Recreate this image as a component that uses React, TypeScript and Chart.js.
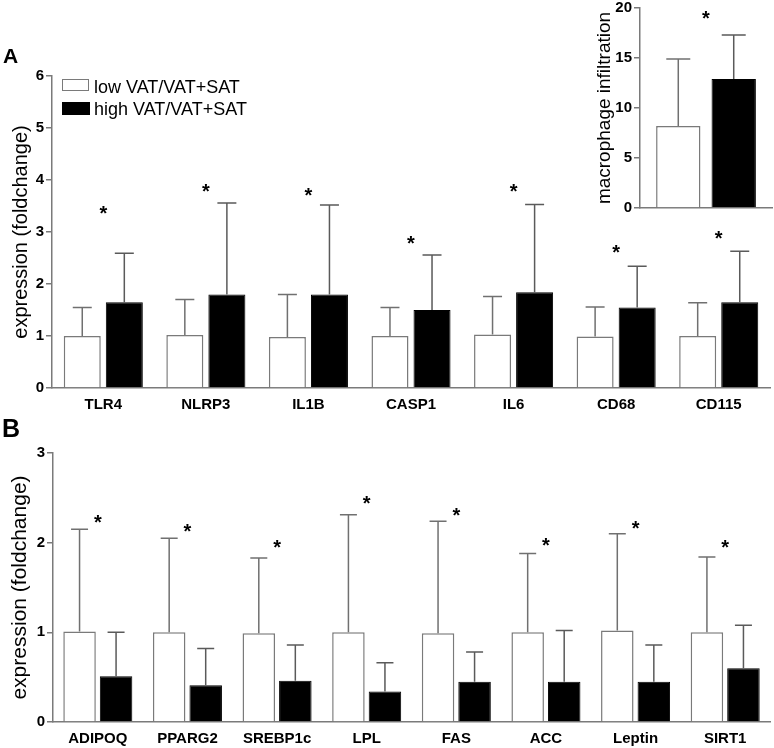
import React, { useEffect, useRef } from 'react';
import { Chart, registerables } from 'chart.js';
Chart.register(...registerables);

const FONT = "'Liberation Sans', Arial, Helvetica, sans-serif";
const AXIS_GREY = '#7a7a7a';

// ---------- Panel A ----------
const panelACategories = ['TLR4', 'NLRP3', 'IL1B', 'CASP1', 'IL6', 'CD68', 'CD115'];
const panelALow = [1.0, 1.02, 0.98, 1.0, 1.03, 0.99, 1.0];
const panelALowError = [1.55, 1.7, 1.8, 1.55, 1.76, 1.56, 1.64];
const panelAHigh = [1.65, 1.8, 1.8, 1.5, 1.84, 1.55, 1.65];
const panelAHighError = [2.59, 3.56, 3.52, 2.56, 3.53, 2.34, 2.63];
const panelAStars = [3.46, 3.88, 3.8, 2.88, 3.87, 2.7, 2.98];
const panelATicks = [0, 1, 2, 3, 4, 5, 6];

// ---------- Panel B ----------
const panelBCategories = ['ADIPOQ', 'PPARG2', 'SREBP1c', 'LPL', 'FAS', 'ACC', 'Leptin', 'SIRT1'];
const panelBLow = [1.01, 1.0, 0.99, 1.0, 0.99, 1.0, 1.02, 1.0];
const panelBLowError = [2.15, 2.05, 1.83, 2.31, 2.24, 1.88, 2.1, 1.84];
const panelBHigh = [0.51, 0.41, 0.46, 0.34, 0.45, 0.45, 0.45, 0.6];
const panelBHighError = [1.0, 0.82, 0.86, 0.66, 0.78, 1.02, 0.86, 1.08];
const panelBStars = [2.28, 2.18, 2.0, 2.49, 2.36, 2.03, 2.22, 2.0];
const panelBTicks = [0, 1, 2, 3];

// ---------- Inset (macrophage infiltration) ----------
const insetCategories = [''];
const insetLow = [8.2];
const insetLowError = [14.9];
const insetHigh = [12.9];
const insetHighError = [17.3];
const insetStars = [19.5];
const insetTicks = [0, 5, 10, 15, 20];

const seriesNames = ['low VAT/VAT+SAT', 'high VAT/VAT+SAT'];

const errorBarPlugin = {
  id: 'errorBars',
  afterDatasetsDraw(chart: any, _args: any, opts: any) {
    const ctx = chart.ctx;
    const y = chart.scales.y;
    const cap = opts.cap || 9;
    chart.data.datasets.forEach((ds: any, di: number) => {
      const tops = ds.errorTop;
      if (!tops) return;
      const meta = chart.getDatasetMeta(di);
      meta.data.forEach((bar: any, i: number) => {
        const yTop = y.getPixelForValue(tops[i]);
        ctx.save();
        ctx.strokeStyle = ds.errorColor;
        ctx.lineWidth = 1.5;
        ctx.beginPath();
        ctx.moveTo(bar.x, bar.y);
        ctx.lineTo(bar.x, yTop);
        ctx.moveTo(bar.x - cap, yTop);
        ctx.lineTo(bar.x + cap, yTop);
        ctx.stroke();
        ctx.restore();
      });
    });
  },
};

const starPlugin = {
  id: 'stars',
  afterDatasetsDraw(chart: any, _args: any, opts: any) {
    const values: number[] = opts.values || [];
    const size = opts.size || 20;
    const ctx = chart.ctx;
    const x = chart.scales.x;
    const y = chart.scales.y;
    ctx.save();
    ctx.fillStyle = '#000';
    ctx.font = `bold ${size}px ${FONT}`;
    ctx.textAlign = 'center';
    ctx.textBaseline = 'alphabetic';
    values.forEach((v, i) => {
      const px = x.getPixelForValue(i);
      const py = y.getPixelForValue(v) + 0.58 * size;
      ctx.fillText('*', px, py);
    });
    ctx.restore();
  },
};

type PanelSpec = {
  labels: string[];
  low: number[];
  lowErr: number[];
  high: number[];
  highErr: number[];
  stars: number[];
  ticks: number[];
  yTitle: string;
  titleSize: number;
  titlePad: number;
  yWidth: number;
  xHeight: number;
  padding: any;
  cp: number;
  bp: number;
  cap: number;
  showX: boolean;
};

function makeConfig(s: PanelSpec): any {
  const step = s.ticks[1] - s.ticks[0];
  return {
    type: 'bar',
    data: {
      labels: s.labels,
      datasets: [
        {
          label: seriesNames[0],
          data: s.low,
          backgroundColor: '#ffffff',
          borderColor: AXIS_GREY,
          borderWidth: 1.5,
          errorTop: s.lowErr,
          errorColor: '#707070',
          categoryPercentage: s.cp,
          barPercentage: s.bp,
        },
        {
          label: seriesNames[1],
          data: s.high,
          backgroundColor: '#000000',
          borderColor: '#000000',
          borderWidth: 1,
          errorTop: s.highErr,
          errorColor: '#5a5a5a',
          categoryPercentage: s.cp,
          barPercentage: s.bp,
        },
      ],
    },
    options: {
      responsive: false,
      animation: false,
      devicePixelRatio: 1,
      layout: { padding: s.padding },
      plugins: {
        legend: { display: false },
        tooltip: { enabled: false },
        errorBars: { cap: s.cap },
        stars: { values: s.stars, size: 20 },
      },
      scales: {
        x: {
          type: 'category',
          offset: true,
          grid: { display: true, drawOnChartArea: false, drawTicks: false },
          border: { display: true, color: AXIS_GREY, width: 1.5 },
          ticks: {
            display: s.showX,
            color: '#000',
            padding: 8,
            maxRotation: 0,
            autoSkip: false,
            font: { family: FONT, size: 15, weight: 'bold' },
          },
          afterFit(scale: any) {
            scale.height = s.xHeight;
          },
        },
        y: {
          min: s.ticks[0],
          max: s.ticks[s.ticks.length - 1],
          grid: {
            display: true,
            drawOnChartArea: false,
            drawTicks: true,
            tickLength: 6,
            color: AXIS_GREY,
            lineWidth: 1.5,
          },
          border: { display: true, color: AXIS_GREY, width: 1.5 },
          ticks: {
            stepSize: step,
            color: '#000',
            padding: 2,
            font: { family: FONT, size: 15, weight: 'bold' },
          },
          title: {
            display: true,
            text: s.yTitle,
            color: '#000',
            font: { family: FONT, size: s.titleSize, weight: 'normal', lineHeight: 1.2 },
            padding: { top: s.titlePad, bottom: 0 },
          },
          afterFit(scale: any) {
            scale.width = s.yWidth;
          },
        },
      },
    },
    plugins: [errorBarPlugin, starPlugin],
  };
}

function ChartCanvas({ spec, left, top, width, height }: { spec: PanelSpec; left: number; top: number; width: number; height: number }) {
  const ref = useRef<HTMLCanvasElement | null>(null);
  useEffect(() => {
    if (!ref.current) return;
    const chart = new Chart(ref.current, makeConfig(spec));
    return () => chart.destroy();
  }, []);
  return (
    <canvas
      ref={ref}
      width={width}
      height={height}
      style={{ position: 'absolute', left, top, width, height }}
    />
  );
}

const specA: PanelSpec = {
  labels: panelACategories,
  low: panelALow,
  lowErr: panelALowError,
  high: panelAHigh,
  highErr: panelAHighError,
  stars: panelAStars,
  ticks: panelATicks,
  yTitle: 'expression (foldchange)',
  titleSize: 20,
  titlePad: 9,
  yWidth: 52,
  xHeight: 32,
  padding: { top: 20, right: 4, left: 0, bottom: 0 },
  cp: 0.82,
  bp: 0.88,
  cap: 9.5,
  showX: true,
};

const specB: PanelSpec = {
  labels: panelBCategories,
  low: panelBLow,
  lowErr: panelBLowError,
  high: panelBHigh,
  highErr: panelBHighError,
  stars: panelBStars,
  ticks: panelBTicks,
  yTitle: 'expression (foldchange)',
  titleSize: 21,
  titlePad: 8,
  yWidth: 53,
  xHeight: 26,
  padding: { top: 23, right: 4, left: 0, bottom: 0 },
  cp: 0.815,
  bp: 0.89,
  cap: 8.5,
  showX: true,
};

const specInset: PanelSpec = {
  labels: insetCategories,
  low: insetLow,
  lowErr: insetLowError,
  high: insetHigh,
  highErr: insetHighError,
  stars: insetStars,
  ticks: insetTicks,
  yTitle: 'macrophage infiltration',
  titleSize: 19,
  titlePad: 33,
  yWidth: 80,
  xHeight: 16,
  padding: { top: 10, right: 2, left: 0, bottom: 0 },
  cp: 0.84,
  bp: 0.8,
  cap: 12,
  showX: false,
};

export default function App() {
  const legendText: React.CSSProperties = {
    position: 'absolute',
    left: 94,
    fontFamily: FONT,
    fontSize: 18,
    lineHeight: '18px',
    color: '#000',
    whiteSpace: 'nowrap',
  };
  return (
    <div style={{ position: 'absolute', left: 0, top: 0, width: 774, height: 748, background: '#fff', overflow: 'hidden' }}>
      <ChartCanvas spec={specA} left={0} top={56} width={774} height={364} />
      <ChartCanvas spec={specB} left={0} top={430} width={774} height={318} />
      <ChartCanvas spec={specInset} left={560} top={-3} width={214} height={227} />
      <div style={{ position: 'absolute', left: 3, top: 45, fontFamily: FONT, fontWeight: 'bold', fontSize: 21, lineHeight: '21px' }}>A</div>
      <div style={{ position: 'absolute', left: 2, top: 416, fontFamily: FONT, fontWeight: 'bold', fontSize: 25, lineHeight: '25px' }}>B</div>
      <div style={{ position: 'absolute', left: 62, top: 79, width: 25, height: 10, border: `1.5px solid ${AXIS_GREY}`, background: '#fff' }} />
      <div style={{ ...legendText, top: 78 }}>{seriesNames[0]}</div>
      <div style={{ position: 'absolute', left: 62, top: 102, width: 28, height: 13, background: '#000' }} />
      <div style={{ ...legendText, top: 100 }}>{seriesNames[1]}</div>
    </div>
  );
}
